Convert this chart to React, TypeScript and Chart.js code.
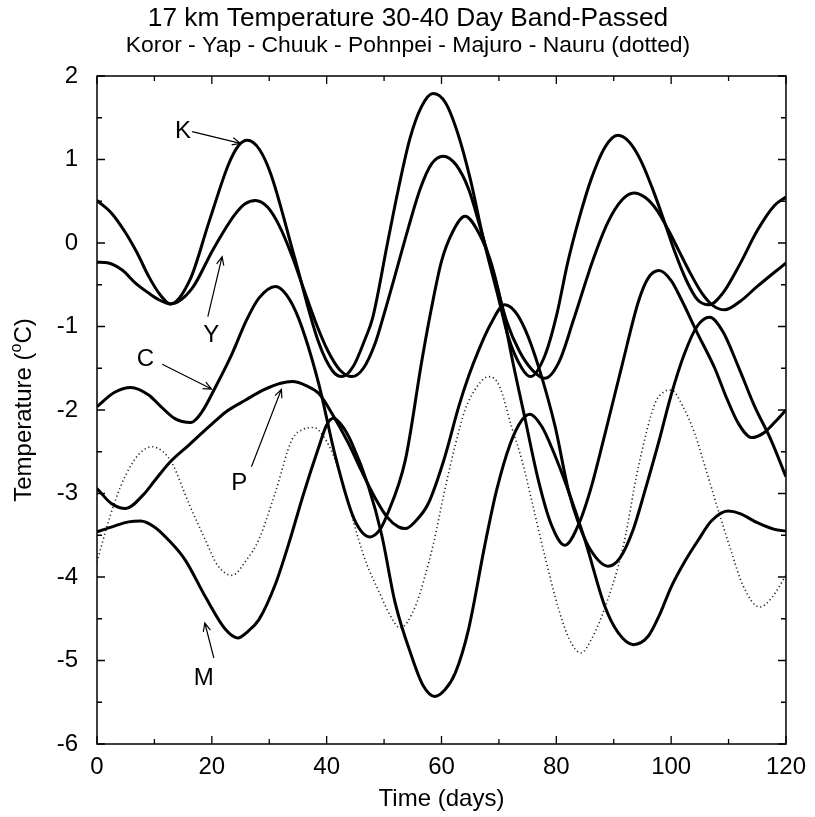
import React, { useEffect, useRef } from 'react';
import { Chart, registerables } from 'chart.js';

Chart.register(...registerables);

const FONT = "'Liberation Sans', Arial, Helvetica, sans-serif";

const TITLE = '17 km Temperature 30-40 Day Band-Passed';
const SUBTITLE = 'Koror - Yap - Chuuk - Pohnpei - Majuro - Nauru (dotted)';
const X_TITLE = 'Time (days)';
const Y_TITLE_PARTS = ['Temperature (', 'o', 'C)'];

const X_MIN = 0;
const X_MAX = 120;
const Y_MIN = -6;
const Y_MAX = 2;
const X_LABEL_STEP = 20;
const X_MINOR_STEP = 10;
const Y_LABEL_STEP = 1;
const Y_MINOR_STEP = 0.5;

// Koror
const korDays = [0, 2.5, 5, 7, 9, 11, 12.8, 16.2, 19.5, 22.9, 24.7, 26.2, 28.3, 30.3, 34.4, 38.6, 41, 42.7, 44.7, 46.7, 48, 50.6, 52.5, 54.5, 56.5, 58.5, 60.7, 62.9, 65, 67.3, 69.9, 71.6, 74, 75.5, 78, 80, 82, 84, 86, 88.5, 90.7, 92.7, 94.7, 96.7, 98.6, 100.6, 102.6, 104.6, 106.6, 109, 112, 115, 118, 120];
const korTemp = [0.51, 0.36, 0.12, -0.12, -0.40, -0.62, -0.73, -0.44, 0.25, 0.94, 1.17, 1.23, 1.12, 0.82, -0.17, -1.19, -1.53, -1.60, -1.47, -1.15, -0.90, 0.0, 0.65, 1.25, 1.63, 1.79, 1.68, 1.30, 0.77, 0.05, -0.65, -1.12, -1.50, -1.60, -1.35, -0.88, -0.23, 0.30, 0.75, 1.15, 1.29, 1.21, 0.99, 0.66, 0.30, -0.10, -0.44, -0.68, -0.74, -0.60, -0.25, 0.15, 0.45, 0.55];

// Yap
const yapDays = [0, 2, 4.5, 6.7, 9, 10.8, 12.8, 16.5, 20.2, 23.9, 25.8, 27.6, 29.7, 31.8, 34, 36, 38.2, 40.2, 42.3, 44.4, 46.4, 48.4, 50, 52.35, 54.3, 56.3, 58.3, 60.3, 62.5, 64.7, 66.9, 69.2, 71.4, 73.6, 75.8, 78, 80.5, 83, 86.4, 89, 91.5, 93.5, 95.5, 97.45, 99.4, 101.4, 103.4, 105.35, 107.3, 109.3, 112, 115, 118, 120];
const yapTemp = [-0.23, -0.24, -0.33, -0.48, -0.60, -0.68, -0.73, -0.55, -0.08, 0.33, 0.47, 0.51, 0.43, 0.20, -0.16, -0.55, -0.97, -1.29, -1.52, -1.60, -1.50, -1.21, -0.85, -0.28, 0.20, 0.65, 0.95, 1.04, 0.94, 0.65, 0.15, -0.40, -0.95, -1.30, -1.52, -1.62, -1.42, -0.92, -0.20, 0.25, 0.52, 0.60, 0.545, 0.40, 0.17, -0.10, -0.37, -0.60, -0.75, -0.80, -0.70, -0.52, -0.35, -0.24];

// Chuuk
const chkDays = [0, 3, 5.9, 9, 11, 13.5, 16.3, 18.3, 20.6, 23.5, 26, 28.2, 31.1, 33, 35.1, 38.6, 41.5, 44.4, 46, 47.6, 49.2, 50.5, 53.7, 56.6, 58.2, 60, 62, 64.1, 66.5, 68.7, 70.5, 72.2, 74.6, 76.9, 79, 81.5, 84, 86.1, 88.5, 91.5, 94.3, 96, 97.9, 100, 101.8, 104.5, 107.6, 109.5, 111.7, 114, 116, 118, 120];
const chkTemp = [-1.96, -1.79, -1.73, -1.82, -1.95, -2.10, -2.15, -2.02, -1.73, -1.33, -0.93, -0.66, -0.52, -0.62, -0.90, -1.68, -2.55, -3.24, -3.45, -3.52, -3.44, -3.26, -2.60, -1.40, -0.80, -0.22, 0.14, 0.32, 0.12, -0.25, -0.75, -1.35, -2.12, -2.85, -3.35, -3.62, -3.35, -2.92, -2.28, -1.45, -0.70, -0.42, -0.33, -0.45, -0.68, -1.07, -1.50, -1.83, -2.16, -2.33, -2.28, -2.15, -2.00];

// Pohnpei
const pohDays = [0, 2.5, 5, 8, 10, 12.5, 16, 19.5, 22.5, 25.9, 29, 32, 34, 36.5, 38.6, 41, 43.8, 46, 48.5, 50.5, 52.5, 53.7, 55.5, 57.7, 60.5, 63, 64.7, 66.5, 68.5, 71, 72.8, 74.6, 76.9, 79.8, 82.1, 84, 86, 89, 91, 93.4, 95.5, 97.85, 100, 102.3, 104.5, 106.7, 109, 111.7, 114.5, 117.4, 120];
const pohTemp = [-2.94, -3.12, -3.18, -3.02, -2.85, -2.64, -2.42, -2.20, -2.02, -1.88, -1.76, -1.68, -1.66, -1.71, -1.80, -2.05, -2.40, -2.72, -3.06, -3.28, -3.40, -3.42, -3.33, -3.12, -2.58, -1.96, -1.60, -1.28, -0.98, -0.74, -0.82, -1.04, -1.48, -2.20, -2.96, -3.38, -3.68, -3.87, -3.78, -3.43, -2.95, -2.38, -1.82, -1.33, -1.00, -0.89, -1.06, -1.48, -1.95, -2.36, -2.80];

// Majuro
const majDays = [0, 3, 5.5, 7.6, 10, 12.5, 15.4, 18.9, 22.4, 24.5, 26.3, 28.2, 31.1, 33.4, 36, 38.6, 40, 41.2, 42.8, 44.4, 47.3, 49.6, 51.9, 54.8, 56.8, 58.8, 60.6, 62.4, 64.7, 67.6, 69.6, 72, 74, 75.4, 77.5, 79.5, 82, 85, 88.5, 90.8, 93.4, 96, 98, 100, 102.5, 104.7, 107, 109.9, 112, 115, 118, 120];
const majTemp = [-3.46, -3.39, -3.34, -3.33, -3.40, -3.56, -3.80, -4.24, -4.63, -4.73, -4.65, -4.51, -4.08, -3.60, -3.00, -2.45, -2.18, -2.10, -2.20, -2.40, -2.92, -3.50, -4.30, -4.95, -5.30, -5.43, -5.35, -5.15, -4.63, -3.60, -2.96, -2.40, -2.12, -2.05, -2.20, -2.50, -2.95, -3.56, -4.36, -4.67, -4.81, -4.71, -4.45, -4.12, -3.80, -3.56, -3.33, -3.21, -3.24, -3.35, -3.43, -3.45];

// Nauru (dotted)
const nauDays = [0, 1.5, 3.2, 5, 7.3, 9.6, 11.5, 13.1, 16, 18.9, 21, 23.5, 26, 28.2, 31, 34, 36, 37.7, 39.5, 41.5, 43.5, 45.6, 47, 49, 51, 52.8, 55.4, 57, 58.6, 60.6, 62.4, 64.1, 66.2, 68.2, 70, 72.2, 74, 75.7, 78, 80.3, 82.3, 84.3, 86.3, 88.5, 91.6, 94.3, 97.2, 98.8, 100, 102, 104.1, 106, 108.2, 110.5, 112.5, 115.4, 117.5, 120];
const nauTemp = [-3.82, -3.45, -3.08, -2.78, -2.53, -2.44, -2.50, -2.64, -3.12, -3.56, -3.86, -3.98, -3.80, -3.55, -3.00, -2.35, -2.23, -2.21, -2.32, -2.60, -3.05, -3.56, -3.85, -4.16, -4.45, -4.61, -4.36, -4.02, -3.60, -2.95, -2.42, -2.00, -1.72, -1.60, -1.70, -2.20, -2.60, -3.08, -3.75, -4.36, -4.75, -4.91, -4.72, -4.36, -3.65, -2.68, -1.92, -1.78, -1.76, -1.95, -2.28, -2.70, -3.20, -3.70, -4.10, -4.36, -4.25, -3.98];

// Station letters with arrows (data units: days, deg C)
const labelText = ['K', 'Y', 'C', 'P', 'M'];
const labelDay = [14.96, 19.91, 8.43, 24.78, 18.61];
const labelTemp = [1.353, -1.09, -1.383, -2.868, -5.198];
const arrowFromDay = [16.57, 19.3, 11.36, 26.9, 20.35];
const arrowFromTemp = [1.333, -0.883, -1.453, -2.679, -4.97];
const arrowToDay = [24.99, 21.79, 19.95, 32.12, 18.78];
const arrowToTemp = [1.194, -0.164, -1.749, -1.752, -4.551];

const series = [
  { name: 'Koror', days: korDays, temps: korTemp, dotted: false },
  { name: 'Yap', days: yapDays, temps: yapTemp, dotted: false },
  { name: 'Chuuk', days: chkDays, temps: chkTemp, dotted: false },
  { name: 'Pohnpei', days: pohDays, temps: pohTemp, dotted: false },
  { name: 'Majuro', days: majDays, temps: majTemp, dotted: false },
  { name: 'Nauru', days: nauDays, temps: nauTemp, dotted: true },
];

const overlayPlugin = {
  id: 'overlay',
  afterDatasetsDraw(chart: any) {
    const { ctx, chartArea: a, scales } = chart;
    const xs = scales.x;
    const ys = scales.y;
    ctx.save();
    // frame
    ctx.strokeStyle = '#000';
    ctx.lineWidth = 1.5;
    ctx.strokeRect(a.left, a.top, a.right - a.left, a.bottom - a.top);
    // inward ticks
    ctx.lineWidth = 1.3;
    ctx.beginPath();
    for (let d = X_MIN; d <= X_MAX + 1e-9; d += X_MINOR_STEP) {
      const px = xs.getPixelForValue(d);
      const len = Math.abs(d % X_LABEL_STEP) < 1e-9 ? 8 : 5;
      ctx.moveTo(px, a.bottom);
      ctx.lineTo(px, a.bottom - len);
      ctx.moveTo(px, a.top);
      ctx.lineTo(px, a.top + len);
    }
    for (let v = Y_MIN; v <= Y_MAX + 1e-9; v += Y_MINOR_STEP) {
      const py = ys.getPixelForValue(v);
      const len = Math.abs(v % Y_LABEL_STEP) < 1e-9 ? 8 : 5;
      ctx.moveTo(a.left, py);
      ctx.lineTo(a.left + len, py);
      ctx.moveTo(a.right, py);
      ctx.lineTo(a.right - len, py);
    }
    ctx.stroke();

    // station labels and arrows
    ctx.fillStyle = '#000';
    ctx.font = `24px ${FONT}`;
    ctx.textAlign = 'center';
    ctx.textBaseline = 'middle';
    ctx.lineWidth = 1.2;
    for (let i = 0; i < labelText.length; i++) {
      ctx.fillText(labelText[i], xs.getPixelForValue(labelDay[i]), ys.getPixelForValue(labelTemp[i]) + 1);
      const x1 = xs.getPixelForValue(arrowFromDay[i]);
      const y1 = ys.getPixelForValue(arrowFromTemp[i]);
      const x2 = xs.getPixelForValue(arrowToDay[i]);
      const y2 = ys.getPixelForValue(arrowToTemp[i]);
      const ang = Math.atan2(y2 - y1, x2 - x1);
      const head = 9;
      const spread = 0.42;
      ctx.beginPath();
      ctx.moveTo(x1, y1);
      ctx.lineTo(x2, y2);
      ctx.moveTo(x2 - head * Math.cos(ang - spread), y2 - head * Math.sin(ang - spread));
      ctx.lineTo(x2, y2);
      ctx.lineTo(x2 - head * Math.cos(ang + spread), y2 - head * Math.sin(ang + spread));
      ctx.stroke();
    }

    // y-axis title with superscript
    ctx.translate(a.left - 73, (a.top + a.bottom) / 2);
    ctx.rotate(-Math.PI / 2);
    ctx.textAlign = 'left';
    ctx.textBaseline = 'middle';
    const mainFont = `24px ${FONT}`;
    const supFont = `16px ${FONT}`;
    ctx.font = mainFont;
    const w1 = ctx.measureText(Y_TITLE_PARTS[0]).width;
    const w3 = ctx.measureText(Y_TITLE_PARTS[2]).width;
    ctx.font = supFont;
    const w2 = ctx.measureText(Y_TITLE_PARTS[1]).width;
    let x = -(w1 + w2 + w3) / 2;
    ctx.font = mainFont;
    ctx.fillText(Y_TITLE_PARTS[0], x, 0);
    x += w1;
    ctx.font = supFont;
    ctx.fillText(Y_TITLE_PARTS[1], x, -7);
    x += w2;
    ctx.font = mainFont;
    ctx.fillText(Y_TITLE_PARTS[2], x, 0);
    ctx.restore();
  },
};

export default function App() {
  const canvasRef = useRef<HTMLCanvasElement | null>(null);

  useEffect(() => {
    if (!canvasRef.current) return;
    const chart = new Chart(canvasRef.current, {
      type: 'line',
      data: {
        datasets: series.map((s) => ({
          label: s.name,
          data: s.days.map((d, i) => ({ x: d, y: s.temps[i] })),
          borderColor: s.dotted ? '#222' : '#000',
          borderWidth: s.dotted ? 1.6 : 3,
          borderDash: s.dotted ? [1.2, 2.8] : [],
          pointRadius: 0,
          cubicInterpolationMode: 'monotone',
          fill: false,
        })),
      },
      options: {
        responsive: false,
        animation: false,
        events: [],
        devicePixelRatio: 1,
        layout: { padding: { left: 27, right: 26, top: 0, bottom: 0 } },
        plugins: {
          legend: { display: false },
          tooltip: { enabled: false },
          title: {
            display: true,
            text: TITLE,
            color: '#000',
            font: { family: FONT, size: 26.3, weight: 'normal', lineHeight: 1 },
            padding: { top: 6, bottom: 2 },
          },
          subtitle: {
            display: true,
            text: SUBTITLE,
            color: '#000',
            font: { family: FONT, size: 22.9, weight: 'normal', lineHeight: 1 },
            padding: { top: 0.25, bottom: 18.55 },
          },
        },
        scales: {
          x: {
            type: 'linear',
            min: X_MIN,
            max: X_MAX,
            grid: { display: false, drawTicks: false },
            border: { display: false },
            ticks: {
              stepSize: X_LABEL_STEP,
              color: '#000',
              font: { family: FONT, size: 24 },
              padding: 9,
              maxRotation: 0,
            },
            title: {
              display: true,
              text: X_TITLE,
              color: '#000',
              font: { family: FONT, size: 24 },
              padding: { top: 0, bottom: 3 },
            },
            afterFit: (scale: any) => {
              scale.height = 73;
            },
          },
          y: {
            type: 'linear',
            min: Y_MIN,
            max: Y_MAX,
            grid: { display: false, drawTicks: false },
            border: { display: false },
            ticks: {
              stepSize: Y_LABEL_STEP,
              color: '#000',
              font: { family: FONT, size: 24 },
              padding: 19,
            },
            afterFit: (scale: any) => {
              scale.width = 70;
            },
          },
        },
      },
      plugins: [overlayPlugin],
    });
    return () => chart.destroy();
  }, []);

  return (
    <div style={{ position: 'fixed', left: 0, top: 0, width: 815, height: 817, background: '#fff' }}>
      <canvas ref={canvasRef} width={815} height={817} />
    </div>
  );
}
